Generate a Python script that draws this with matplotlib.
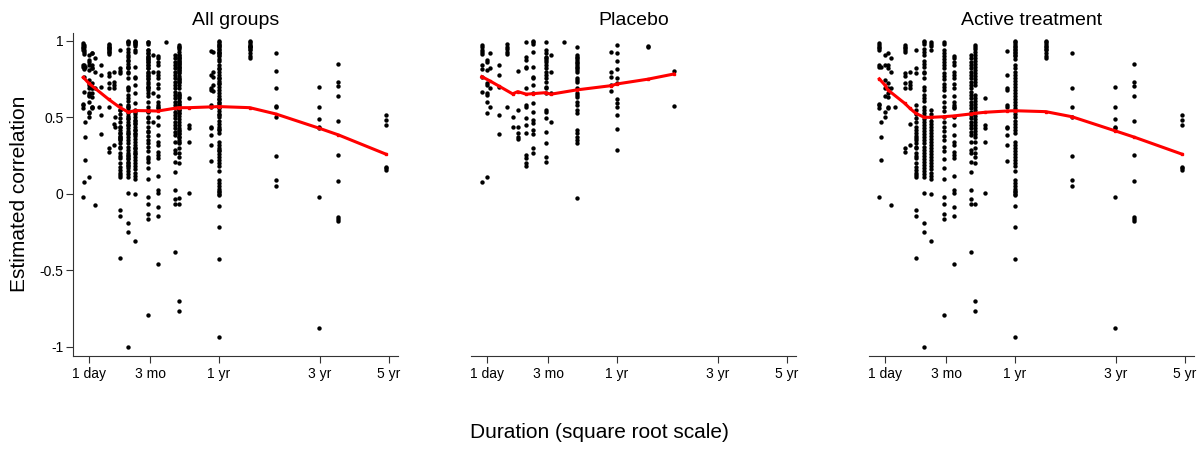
import numpy as np
import matplotlib
matplotlib.use("Agg")
import matplotlib.pyplot as plt

plt.rcParams['font.family'] = ['Liberation Sans', 'DejaVu Sans']

# study durations (days) and estimated correlations, placebo arms
placebo_days = [0.08, 1, 2, 7, 14, 21, 28, 42, 56, 84, 98, 137, 182, 336, 365, 547, 730]
placebo_r = [
    [0.974, 0.958, 0.943, 0.93, 0.915, 0.843, 0.815, 0.767, 0.664, 0.08],
    [0.876, 0.865, 0.81, 0.723, 0.712, 0.658, 0.647, 0.603, 0.527, 0.113],
    [0.919, 0.825, 0.69, 0.571],
    [0.843, 0.778, 0.701, 0.516, 0.39],
    [0.978, 0.963, 0.945, 0.93, 0.913, 0.571],
    [0.505, 0.44],
    [0.804, 0.549, 0.44, 0.396, 0.375, 0.359],
    [0.995, 0.897, 0.876, 0.832, 0.821, 0.69, 0.581, 0.571, 0.494, 0.451, 0.396,
     0.255, 0.233, 0.2, 0.185],
    [1.0, 0.991, 0.978, 0.93, 0.828, 0.767, 0.756, 0.712, 0.658, 0.592, 0.538,
     0.483, 0.462, 0.418, 0.39, 0.298, 0.266],
    [0.995, 0.941, 0.919, 0.897, 0.886, 0.876, 0.865, 0.843, 0.821, 0.8, 0.778,
     0.756, 0.734, 0.701, 0.69, 0.658, 0.549, 0.538, 0.494, 0.407, 0.331, 0.244, 0.211],
    [0.908, 0.8, 0.658, 0.473],
    [0.995],
    [0.963, 0.908, 0.897, 0.886, 0.876, 0.865, 0.854, 0.843, 0.832, 0.821, 0.81,
     0.8, 0.756, 0.745, 0.734, 0.69, 0.658, 0.647, 0.636, 0.603, 0.581, 0.549,
     0.527, 0.418, 0.396, 0.375, 0.353, 0.331, -0.028],
    [0.93, 0.8, 0.767, 0.712, 0.673],
    [0.974, 0.924, 0.869, 0.817, 0.76, 0.723, 0.621, 0.592, 0.571, 0.516, 0.422, 0.287],
    [0.967, 0.958],
    [0.806, 0.577],
]

# active treatment arms
active_days = [0.05, 0.25, 1, 2, 3.5, 6, 14, 20, 28, 42, 56, 84, 112, 168, 182,
               224, 322, 365, 547, 730, 1095, 1277, 1790]
active_r = [
    [0.985, 0.974, 0.963, 0.952, 0.941, 0.84, 0.83, 0.59, 0.58, 0.56, -0.02],
    [0.828, 0.47, 0.375, 0.22],
    [0.91, 0.843, 0.745, 0.69, 0.64, 0.538, 0.505],
    [0.92, 0.843, 0.82, 0.723, 0.69, 0.658, 0.636, 0.571, 0.56],
    [0.886, 0.8, 0.69, -0.072],
    [0.571],
    [0.974, 0.963, 0.952, 0.941, 0.93, 0.79, 0.77, 0.723, 0.69, 0.3, 0.276],
    [0.8, 0.73, 0.71, 0.69, 0.46, 0.32],
    [0.941, 0.82, 0.788, 0.582, 0.55, 0.52, 0.495, 0.468, 0.44, 0.42, 0.397, 0.38,
     0.364, 0.35, 0.331, 0.31, 0.298, 0.27, 0.25, 0.233, 0.2, 0.179, 0.157, 0.14,
     0.124, 0.11, -0.105, -0.142, -0.42],
    [1.0, 0.99, 0.98, 0.95, 0.93, 0.91, 0.87, 0.85, 0.83, 0.8, 0.79, 0.76, 0.7,
     0.68, 0.65, 0.63, 0.61, 0.57, 0.55, 0.53, 0.51, 0.49, 0.47, 0.45, 0.43, 0.41,
     0.39, 0.37, 0.35, 0.33, 0.31, 0.29, 0.27, 0.25, 0.23, 0.21, 0.19, 0.17, 0.15,
     0.13, 0.11, 0.009, -0.19, -0.246, -1.0],
    [0.99, 0.98, 0.97, 0.94, 0.55, 0.52, 0.5, 0.48, 0.46, 0.44, 0.42, 0.4, 0.38,
     0.36, 0.34, 0.32, 0.3, 0.28, 0.26, 0.24, 0.22, 0.2, 0.18, 0.16, 0.14, 0.12,
     0.1, 0.0, -0.307],
    [0.995, 0.98, 0.94, 0.92, 0.9, 0.88, 0.86, 0.84, 0.82, 0.79, 0.77, 0.75, 0.72,
     0.7, 0.68, 0.64, 0.6, 0.57, 0.54, 0.5, 0.47, 0.44, 0.41, 0.38, 0.35, 0.31,
     0.28, 0.23, 0.17, 0.1, -0.018, -0.065, -0.13, -0.166, -0.79],
    [0.9, 0.886, 0.86, 0.84, 0.8, 0.778, 0.756, 0.72, 0.69, 0.64, 0.6, 0.582,
     0.571, 0.56, 0.5, 0.45, 0.386, 0.342, 0.32, 0.276, 0.255, 0.233, 0.12, 0.026,
     0.009, -0.083, -0.144, -0.457],
    [0.908, 0.886, 0.865, 0.843, 0.82, 0.8, 0.778, 0.756, 0.734, 0.712, 0.69,
     0.669, 0.647, 0.625, 0.603, 0.582, 0.56, 0.538, 0.516, 0.495, 0.473, 0.451,
     0.43, 0.408, 0.386, 0.342, 0.288, 0.266, 0.211, 0.146, 0.026, -0.033, -0.068,
     -0.377],
    [0.974, 0.96, 0.95, 0.93, 0.91, 0.89, 0.87, 0.85, 0.83, 0.81, 0.79, 0.77, 0.75,
     0.73, 0.71, 0.65, 0.63, 0.61, 0.59, 0.57, 0.55, 0.53, 0.51, 0.49, 0.47, 0.45,
     0.43, 0.41, 0.39, 0.37, 0.34, 0.3, 0.27, 0.24, 0.2, -0.068, -0.697, -0.765],
    [0.625, 0.45, 0.43, 0.342, 0.009],
    [0.935, 0.778, 0.69, 0.68, 0.58, 0.57, 0.44, 0.43, 0.386, 0.32, 0.215],
    [1.0, 0.99, 0.98, 0.97, 0.96, 0.95, 0.94, 0.93, 0.92, 0.91, 0.9, 0.88, 0.84,
     0.82, 0.8, 0.78, 0.76, 0.74, 0.72, 0.7, 0.68, 0.66, 0.64, 0.62, 0.6, 0.58,
     0.56, 0.54, 0.52, 0.5, 0.48, 0.46, 0.44, 0.42, 0.4, 0.34, 0.32, 0.3, 0.28,
     0.26, 0.24, 0.22, 0.2, 0.18, 0.15, 0.09, 0.07, 0.05, 0.03, 0.02, 0.01, 0.0,
     -0.006, -0.078, -0.214, -0.427, -0.937],
    [1.0, 0.99, 0.98, 0.97, 0.96, 0.95, 0.94, 0.92, 0.9, 0.89],
    [0.92, 0.69, 0.57, 0.505, 0.248, 0.091, 0.054],
    [0.697, 0.571, 0.488, 0.44, 0.43, -0.018, -0.878],
    [0.847, 0.734, 0.708, 0.643, 0.479, 0.255, 0.087, -0.148, -0.164, -0.177],
    [0.516, 0.483, 0.451, 0.178, 0.168, 0.157],
]

# smoothed curves (red lines)
all_line_days = [0.05, 1, 14, 28, 42, 56, 84, 112, 168, 182, 224, 322, 365,
                 547, 730, 1095, 1277, 1790]
all_line_r = [0.762, 0.723, 0.619, 0.566, 0.535, 0.545, 0.544, 0.542, 0.56, 0.564,
              0.564, 0.569, 0.571, 0.564, 0.523, 0.429, 0.386, 0.261]
placebo_line_days = [0.08, 2, 7, 21, 28, 42, 56, 84, 98, 182, 336, 365, 547, 730]
placebo_line_r = [0.767, 0.739, 0.706, 0.654, 0.669, 0.652, 0.656, 0.662, 0.652,
                  0.68, 0.708, 0.719, 0.75, 0.784]
active_line_days = [0.05, 1, 2, 14, 20, 28, 42, 56, 84, 112, 168, 182, 224, 322,
                    365, 547, 730, 1095, 1277, 1790]
active_line_r = [0.752, 0.712, 0.68, 0.593, 0.56, 0.527, 0.501, 0.501, 0.505, 0.51,
                 0.523, 0.527, 0.534, 0.542, 0.544, 0.538, 0.505, 0.412, 0.371, 0.261]

tick_years = [1 / 365.25, 0.25, 1, 3, 5]
tick_labels = ["1 day", "3 mo", "1 yr", "3 yr", "5 yr"]
ytick_vals = [-1, -0.5, 0, 0.5, 1]
ytick_labels = ["-1", "-0.5", "0", "0.5", "1"]


def flatten(days, vals):
    '''Turn column lists into flat x (days) and y arrays'''
    x = []
    y = []
    for d, col in zip(days, vals):
        x += [d] * len(col)
        y += col
    return np.array(x), np.array(y)


def sqrt_years(days):
    return np.sqrt(np.asarray(days) / 365.25)


px, py = flatten(placebo_days, placebo_r)
axx, ay = flatten(active_days, active_r)
allx = np.concatenate([px, axx])
ally = np.concatenate([py, ay])

panels = [
    ("All groups", allx, ally, all_line_days, all_line_r),
    ("Placebo", px, py, placebo_line_days, placebo_line_r),
    ("Active treatment", axx, ay, active_line_days, active_line_r),
]

fig = plt.figure(figsize=(11.98, 4.72), dpi=100)

W, H = 1198.0, 472.0
left_px = [73, 471, 869]
for i, (title, x, y, lx, ly) in enumerate(panels):
    ax = fig.add_axes([left_px[i] / W, 1 - 356 / H, 325 / W, 323 / H])

    ax.scatter(sqrt_years(x), y, s=10, color="black", linewidths=0, zorder=2)
    ax.plot(sqrt_years(lx), ly, color="red", lw=2.2, marker="s", ms=1.8,
            zorder=3)

    ax.set_xlim(-0.0634, 2.3037)
    ax.set_ylim(-1.059, 1.052)

    ax.set_xticks(sqrt_years(np.array(tick_years) * 365.25))
    ax.set_xticklabels(tick_labels)
    ax.tick_params(axis="x", direction="out", length=5, width=0.8, pad=3,
                   labelsize=10, color="#333333")

    for side in ["top", "right"]:
        ax.spines[side].set_visible(False)
    ax.spines["bottom"].set_color("#333333")
    ax.spines["bottom"].set_linewidth(0.8)

    if i == 0:
        ax.set_yticks(ytick_vals)
        ax.set_yticklabels(ytick_labels)
        ax.tick_params(axis="y", direction="out", length=5, width=0.8, pad=2,
                       labelsize=10, color="#333333")
        ax.spines["left"].set_color("#333333")
        ax.spines["left"].set_linewidth(0.8)
    else:
        ax.spines["left"].set_visible(False)
        ax.set_yticks([])

    ax.set_title(title, fontsize=14, pad=6)

fig.text(20 / W, 1 - 194 / H, "Estimated correlation", rotation=90,
         ha="center", va="center", fontsize=15)
fig.text(0.5, 1 - 432 / H, "Duration (square root scale)", ha="center",
         va="center", fontsize=15)

fig.savefig("out.png", dpi=100)
